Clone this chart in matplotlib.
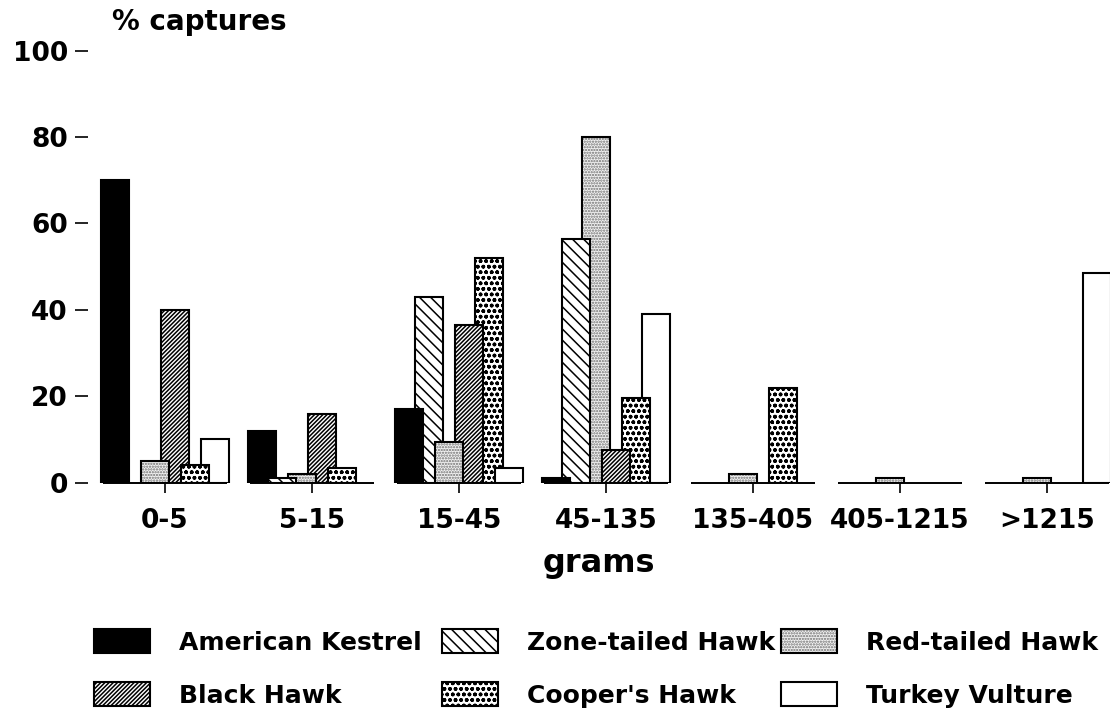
import numpy as np
import matplotlib
matplotlib.use("Agg")
import matplotlib.pyplot as plt
from matplotlib.patches import Patch

# prey weight classes (grams) and raptor species
groups = ['0-5', '5-15', '15-45', '45-135', '135-405', '405-1215', '>1215']
species = ['American Kestrel', 'Zone-tailed Hawk', 'Red-tailed Hawk',
           'Black Hawk', "Cooper's Hawk", 'Turkey Vulture']

# % captures per weight class
kestrel = [70, 12, 17, 1, 0, 0, 0]
zonetailed = [0, 1, 43, 56.5, 0, 0, 0]
redtailed = [5, 2, 9.5, 80, 2, 1.2, 1]
blackhawk = [40, 16, 36.5, 7.5, 0, 0, 0]
coopers = [4, 3.5, 52, 19.5, 22, 0, 0]
vulture = [10, 0, 3.5, 39, 0, 0, 48.5]

series = [kestrel, zonetailed, redtailed, blackhawk, coopers, vulture]

# (face colour, hatch, hatch colour)
styles = [('black', '', 'black'),
          ('white', '\\\\\\', 'black'),
          ('#f2f2f2', '......', '#707070'),
          ('white', '////////', 'black'),
          ('white', '...ooo', 'black'),
          ('white', '', 'black')]

# legend layout: row / column of each species
legend_cell = [(0, 0), (0, 1), (0, 2), (1, 0), (1, 1), (1, 2)]

plt.rcParams['font.family'] = 'DejaVu Sans'
plt.rcParams['font.weight'] = 'bold'
plt.rcParams['hatch.linewidth'] = 1.1

fig = plt.figure(figsize=(11.13, 7.13), dpi=100)
ax = fig.add_axes([88 / 1113, 1 - 482.7 / 713, 1022 / 1113, 432 / 713])

x = np.arange(len(groups))
step = 0.136
width = 0.184

fills = []
outlines = []
for i, vals in enumerate(series):
    face, hatch, hcol = styles[i]
    pos = x + (i - 2.5) * step
    b1 = ax.bar(pos, vals, width, color=face, hatch=hatch, edgecolor=hcol, linewidth=0)
    b2 = ax.bar(pos, vals, width, fill=False, edgecolor='black', linewidth=1.5)
    fills.append(b1)
    outlines.append(b2)

# shorter bars sit in front of taller ones
heights = np.array(series)
for j in range(len(groups)):
    order = np.argsort(-heights[:, j], kind='stable')
    for rank, i in enumerate(order):
        z = 2 + rank * 0.1
        fills[i][j].set_zorder(z)
        outlines[i][j].set_zorder(z + 0.05)
        if heights[i, j] == 0:
            fills[i][j].set_visible(False)
            outlines[i][j].set_visible(False)

# baseline segment under every group
ax.hlines(np.zeros(len(groups)), x - 0.42, x + 0.42, color='black', lw=1.4,
          zorder=10, clip_on=False)

ax.set_xlim(-(165 - 88) / 147, (1110 - 165) / 147)
ax.set_ylim(0, 100)
for s in ax.spines.values():
    s.set_visible(False)

ax.set_yticks([0, 20, 40, 60, 80, 100])
ax.set_xticks(x)
ax.set_xticklabels(groups)
ax.tick_params(axis='y', direction='out', length=9.5, width=1.2, pad=5, labelsize=19)
ax.tick_params(axis='x', direction='out', length=7, width=1.2, pad=11, labelsize=19)
ax.set_xlabel('grams', fontsize=23, fontweight='bold', labelpad=10)

fig.text(112 / 1113, 1 - 22 / 713, '% captures', fontsize=20, fontweight='bold',
         ha='left', va='center')

# legend: 2 rows x 3 columns, one small legend per entry
col_x = [94, 442, 781]
row_y = [642, 695]
for k, name in enumerate(species):
    face, hatch, hcol = styles[k]
    h = (Patch(facecolor=face, hatch=hatch, edgecolor=hcol, linewidth=0),
         Patch(fill=False, edgecolor='black', linewidth=1.5))
    r, c = legend_cell[k]
    fig.legend([h], [name], loc='center left',
               bbox_to_anchor=(col_x[c] / 1113, 1 - row_y[r] / 713),
               frameon=False, fontsize=18, borderpad=0, borderaxespad=0,
               handlelength=2.24, handleheight=1.08, handletextpad=1.16)

fig.savefig('out.png', dpi=100)
